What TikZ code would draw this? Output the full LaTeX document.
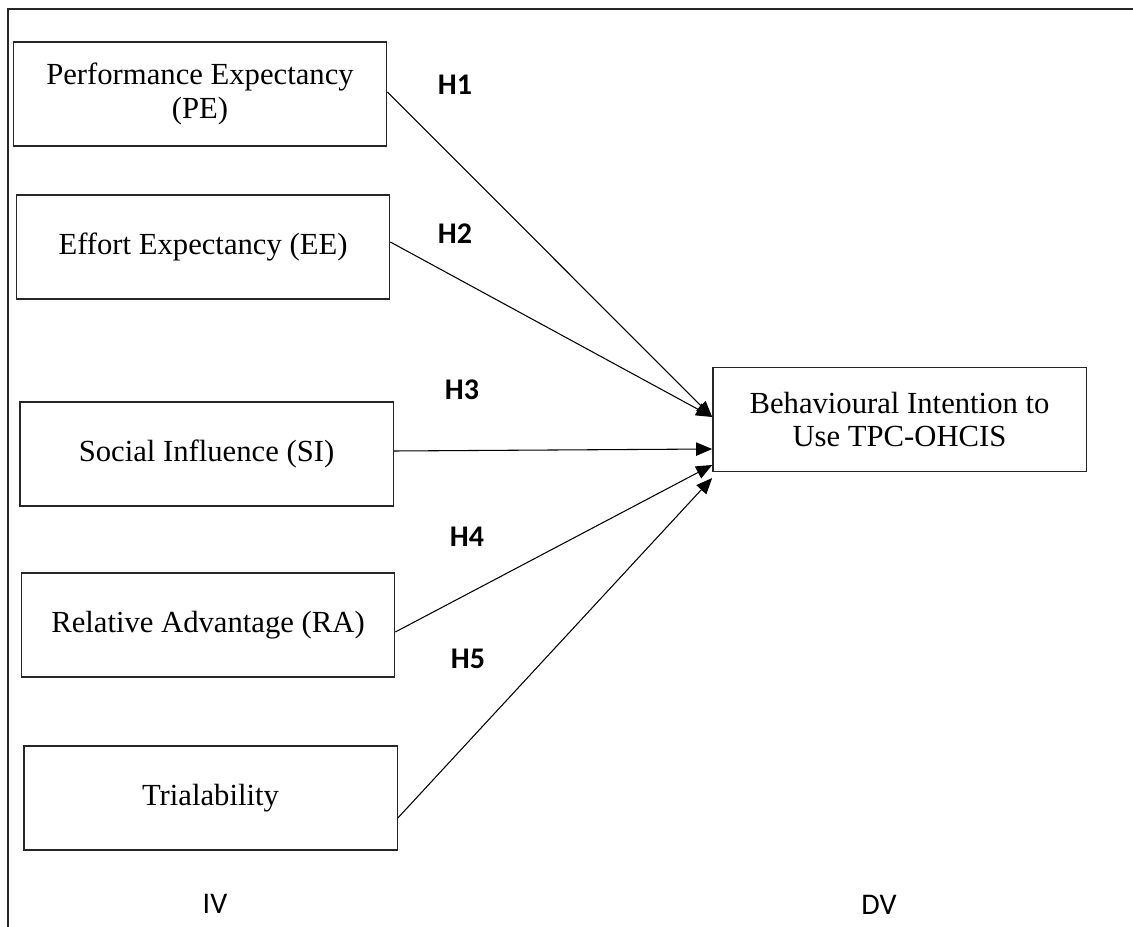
\documentclass[tikz,border=0pt]{standalone}
\usepackage{fontspec}
\setmainfont{Liberation Serif}
\newfontfamily\labfont{Carlito}
\usetikzlibrary{arrows.meta,calc}
\begin{document}
\begin{tikzpicture}[x=0.75pt,y=-0.75pt,
  varbox/.style={draw=black!85,line width=1pt,rectangle,inner sep=0pt,
    minimum width=280pt,minimum height=78pt,align=center,
    font=\fontsize{23}{25}\selectfont},
  hlabel/.style={font=\labfont\bfseries\fontsize{22.5}{24}\selectfont,inner sep=0pt},
  sidelabel/.style={font=\labfont\fontsize{22.5}{24}\selectfont,inner sep=0pt},
  link/.style={line width=0.8pt,-{Triangle[length=12pt,width=10pt]}}]
\useasboundingbox (0,0) rectangle (1133,927);
% frame
\draw[line width=1pt,black!85] (8,927) -- (8,9) -- (1133,9);
% boxes
\node[varbox] (PE) at (200,94) {Performance Expectancy\\(PE)};
\node[varbox] (EE) at (203,247) {Effort Expectancy (EE)};
\node[varbox] (SI) at (206.5,454) {Social Influence (SI)};
\node[varbox] (RA) at (208,625) {Relative Advantage (RA)};
\node[varbox] (TR) at (210.5,798) {Trialability};
\node[varbox] (DV) at (899.5,419.5) {Behavioural Intention to\\Use TPC-OHCIS};
% connectors
\draw[link] ($(PE.east)+(0,-2)$) -- ($(DV.west)+(0,-2.5)$);
\draw[link] ($(EE.east)+(0,-5)$) -- ($(DV.west)+(0,-2.5)$);
\draw[link] ($(SI.east)+(0,-3)$) -- ($(DV.west)+(0,29.5)$);
\draw[link] ($(RA.east)+(0,7)$) -- ($(DV.west)+(0,45.5)$);
\draw[link] ($(TR.east)+(0,20)$) -- ($(DV.west)+(0,58.5)$);
% hypothesis labels
\node[hlabel] (H1) at (455,85) {H1};
\node[hlabel] (H2) at (455,234) {H2};
\node[hlabel] (H3) at (462,390) {H3};
\node[hlabel] (H4) at (467,537) {H4};
\node[hlabel] (H5) at (468,659) {H5};
% IV / DV
\node[sidelabel] (IV) at (215,904) {IV};
\node[sidelabel] (DVl) at (879,905) {DV};
\end{tikzpicture}
\end{document}
